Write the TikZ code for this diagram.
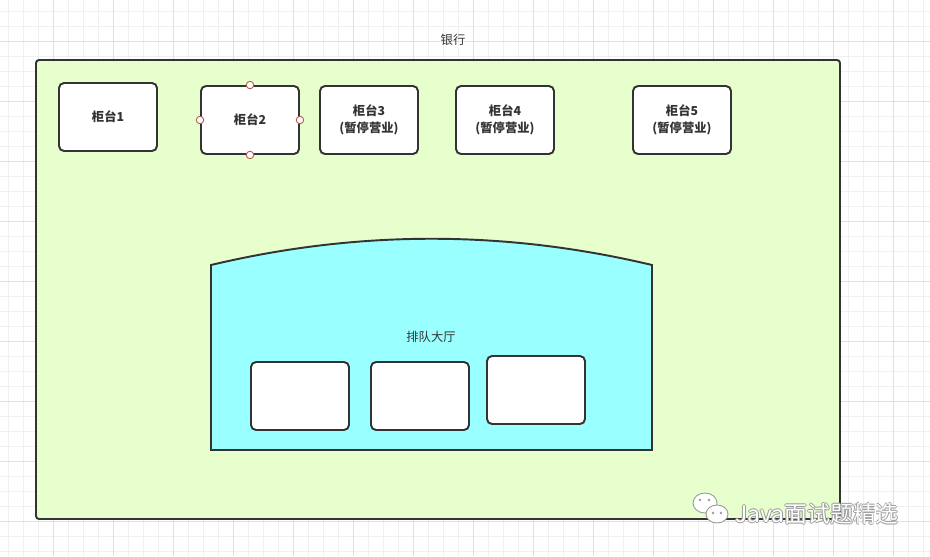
\documentclass[tikz,border=0pt]{standalone}
\usepackage{fontspec}
\setmainfont{Noto Sans CJK SC}
\usetikzlibrary{positioning}
\definecolor{bankfill}{HTML}{E6FFCC}
\definecolor{hallfill}{HTML}{99FFFF}
\definecolor{edge}{HTML}{333333}
\definecolor{gridlight}{HTML}{F0F0F0}
\definecolor{griddark}{HTML}{E0E0E0}
\definecolor{handle}{HTML}{B85450}
\definecolor{markgrey}{HTML}{9A9A9A}
\tikzset{
  counter/.style={draw=edge,fill=white,rounded corners=0.1cm,line width=1.1pt,minimum width=1.96cm,minimum height=1.36cm,align=center,text=edge,font=\fontsize{7}{9.6}\selectfont\bfseries},
  slot/.style={draw=edge,fill=white,rounded corners=0.1cm,line width=1.1pt,minimum width=1.96cm,minimum height=1.36cm},
  grip/.style={draw=handle,fill=white,circle,minimum size=0.15cm,inner sep=0pt,line width=0.5pt},
  caption/.style={text=edge,font=\fontsize{7}{9.6}\selectfont}
}

\begin{document}
\begin{tikzpicture}[x=0.02cm,y=-0.02cm]
  \useasboundingbox (0,0) rectangle (930,556);
  \fill[white] (0,0) rectangle (930,556);
  % background grid
  \foreach \i in {0,...,61} \draw[gridlight,line width=0.5pt] ({8.3+15*\i},0) -- ++(0,556);
  \foreach \j in {0,...,36} \draw[gridlight,line width=0.5pt] (0,{11.7+15*\j}) -- ++(930,0);
  \foreach \i in {0,...,14} \draw[griddark,line width=0.6pt] ({53.3+60*\i},0) -- ++(0,556);
  \foreach \j in {0,...,8} \draw[griddark,line width=0.6pt] (0,{41.7+60*\j}) -- ++(930,0);

  % bank
  \draw[draw=edge,fill=bankfill,line width=1.1pt,rounded corners=0.06cm] (36,60) rectangle (840,519);
  \node[caption] (bank) at (453,40) {银行};

  % counters
  \node[counter] (c1) at (108,117) {柜台1};
  \node[counter] (c2) at (250,120) {柜台2};
  \node[counter] (c3) at (369,120) {柜台3\\(暂停营业)};
  \node[counter] (c4) at (505,120) {柜台4\\(暂停营业)};
  \node[counter] (c5) at (682,120) {柜台5\\(暂停营业)};
  \foreach \a in {north,south,east,west}
    \node[grip] (c2-\a) at (c2.\a) {};

  % waiting hall
  \draw[draw=edge,fill=hallfill,line width=1.1pt] (211,450) -- (211,265)
    .. controls (358,230) and (505,230) .. (652,265) -- (652,450) -- cycle;
  \node[caption] (hall) at (431,337) {排队大厅};
  \node[slot] (q1) at (300,396) {};
  \node[slot] (q2) at (420,396) {};
  \node[slot] (q3) at (536,390) {};

  % watermark
  \draw[markgrey,fill=white,line width=0.5pt] (705,503) ellipse [x radius=12,y radius=10];
  \draw[markgrey,fill=white,line width=0.5pt] (717,514) ellipse [x radius=11,y radius=9];
  \foreach \p in {(700,500),(709,500),(713,513),(721,513)} \fill[markgrey] \p circle (1.3);
  \foreach \dx/\dy in {-0.8/0,0.8/0,0/-0.8,0/0.8}
    \node[text=markgrey,font=\fontsize{13}{15}\selectfont] at ({817+\dx},{514+\dy}) {Java面试题精选};
  \node[text=white,font=\fontsize{13}{15}\selectfont] (mark) at (817,514) {Java面试题精选};
\end{tikzpicture}
\end{document}
